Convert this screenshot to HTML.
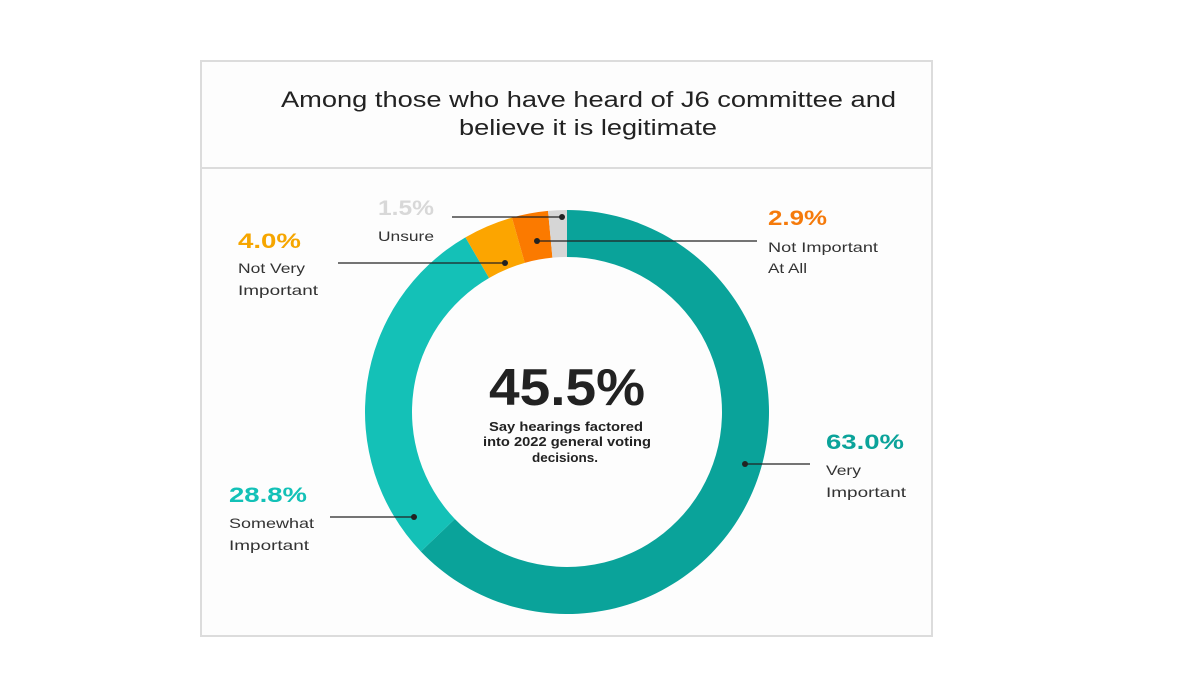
<!DOCTYPE html>
<html><head><style>
body{margin:0;background:#fff;width:1200px;height:675px;overflow:hidden;font-family:"Liberation Sans",sans-serif}
</style></head><body>
<svg width="1200" height="675" xmlns="http://www.w3.org/2000/svg" font-family="Liberation Sans, sans-serif">
<rect x="201" y="61" width="731" height="575" fill="#fdfdfd" stroke="#dcdcdc" stroke-width="2"/>
<line x1="201" y1="168" x2="932" y2="168" stroke="#dcdcdc" stroke-width="2"/>
<text x="281" y="107" font-size="22" fill="#222" textLength="615" lengthAdjust="spacingAndGlyphs">Among those who have heard of J6 committee and</text>
<text x="459" y="135" font-size="22" fill="#222" textLength="258" lengthAdjust="spacingAndGlyphs">believe it is legitimate</text>
<g id="d"></g>
<text x="489" y="405" font-size="52" font-weight="bold" fill="#222" textLength="156" lengthAdjust="spacingAndGlyphs">45.5%</text>
<text x="489" y="431" font-size="13" font-weight="bold" fill="#222" textLength="154" lengthAdjust="spacingAndGlyphs">Say hearings factored</text>
<text x="483" y="446" font-size="13" font-weight="bold" fill="#222" textLength="168" lengthAdjust="spacingAndGlyphs">into 2022 general voting</text>
<text x="532" y="462" font-size="13" font-weight="bold" fill="#222" textLength="66" lengthAdjust="spacingAndGlyphs">decisions.</text>
<g font-size="14" fill="#333" lengthAdjust="spacingAndGlyphs">
<text x="378" y="215" font-size="21" font-weight="bold" fill="#d8d8d8" textLength="56" lengthAdjust="spacingAndGlyphs">1.5%</text>
<text x="378" y="241" textLength="56" lengthAdjust="spacingAndGlyphs">Unsure</text>
<text x="768" y="225" font-size="21" font-weight="bold" fill="#f57a0b" textLength="59" lengthAdjust="spacingAndGlyphs">2.9%</text>
<text x="768" y="252" textLength="110" lengthAdjust="spacingAndGlyphs">Not Important</text>
<text x="768" y="273" textLength="39" lengthAdjust="spacingAndGlyphs">At All</text>
<text x="238" y="248" font-size="21" font-weight="bold" fill="#f6a600" textLength="63" lengthAdjust="spacingAndGlyphs">4.0%</text>
<text x="238" y="273" textLength="67" lengthAdjust="spacingAndGlyphs">Not Very</text>
<text x="238" y="295" textLength="80" lengthAdjust="spacingAndGlyphs">Important</text>
<text x="826" y="449" font-size="21" font-weight="bold" fill="#0ba39a" textLength="78" lengthAdjust="spacingAndGlyphs">63.0%</text>
<text x="826" y="475" textLength="35" lengthAdjust="spacingAndGlyphs">Very</text>
<text x="826" y="497" textLength="80" lengthAdjust="spacingAndGlyphs">Important</text>
<text x="229" y="502" font-size="21" font-weight="bold" fill="#13c1b7" textLength="78" lengthAdjust="spacingAndGlyphs">28.8%</text>
<text x="229" y="528" textLength="85" lengthAdjust="spacingAndGlyphs">Somewhat</text>
<text x="229" y="550" textLength="80" lengthAdjust="spacingAndGlyphs">Important</text>
</g>
</svg>
<script>
var s=document.querySelector('svg'),g=s.querySelector('#d'),ns='http://www.w3.org/2000/svg';
var cx=567,cy=412,R=202,r=155;
var segs=[[63.0,'#0aa39a'],[28.8,'#14c1b7'],[4.0,'#fca500'],[2.9,'#fb7a00'],[1.5,'#d6d6d6']];
var tot=100.2,a=0;
function pt(rad,ang){var t=(ang-90)*Math.PI/180;return [cx+rad*Math.cos(t),cy+rad*Math.sin(t)];}
segs.forEach(function(x){var b=a+x[0]/tot*360,l=(b-a)>180?1:0;
var p1=pt(R,a),p2=pt(R,b),p3=pt(r,b),p4=pt(r,a);
var p=document.createElementNS(ns,'path');
p.setAttribute('d','M'+p1+' A'+R+' '+R+' 0 '+l+' 1 '+p2+' L'+p3+' A'+r+' '+r+' 0 '+l+' 0 '+p4+'Z');
p.setAttribute('fill',x[1]);g.appendChild(p);a=b;});
[[452,217,562,217],[757,241,537,241],[338,263,505,263],[810,464,745,464],[330,517,414,517]].forEach(function(L){
var ln=document.createElementNS(ns,'line');ln.setAttribute('x1',L[0]);ln.setAttribute('y1',L[1]);ln.setAttribute('x2',L[2]);ln.setAttribute('y2',L[3]);ln.setAttribute('stroke','#222');ln.setAttribute('stroke-width','1.3');g.appendChild(ln);
var c=document.createElementNS(ns,'circle');c.setAttribute('cx',L[2]);c.setAttribute('cy',L[3]);c.setAttribute('r','3');c.setAttribute('fill','#222');g.appendChild(c);});
</script>
</body></html>
